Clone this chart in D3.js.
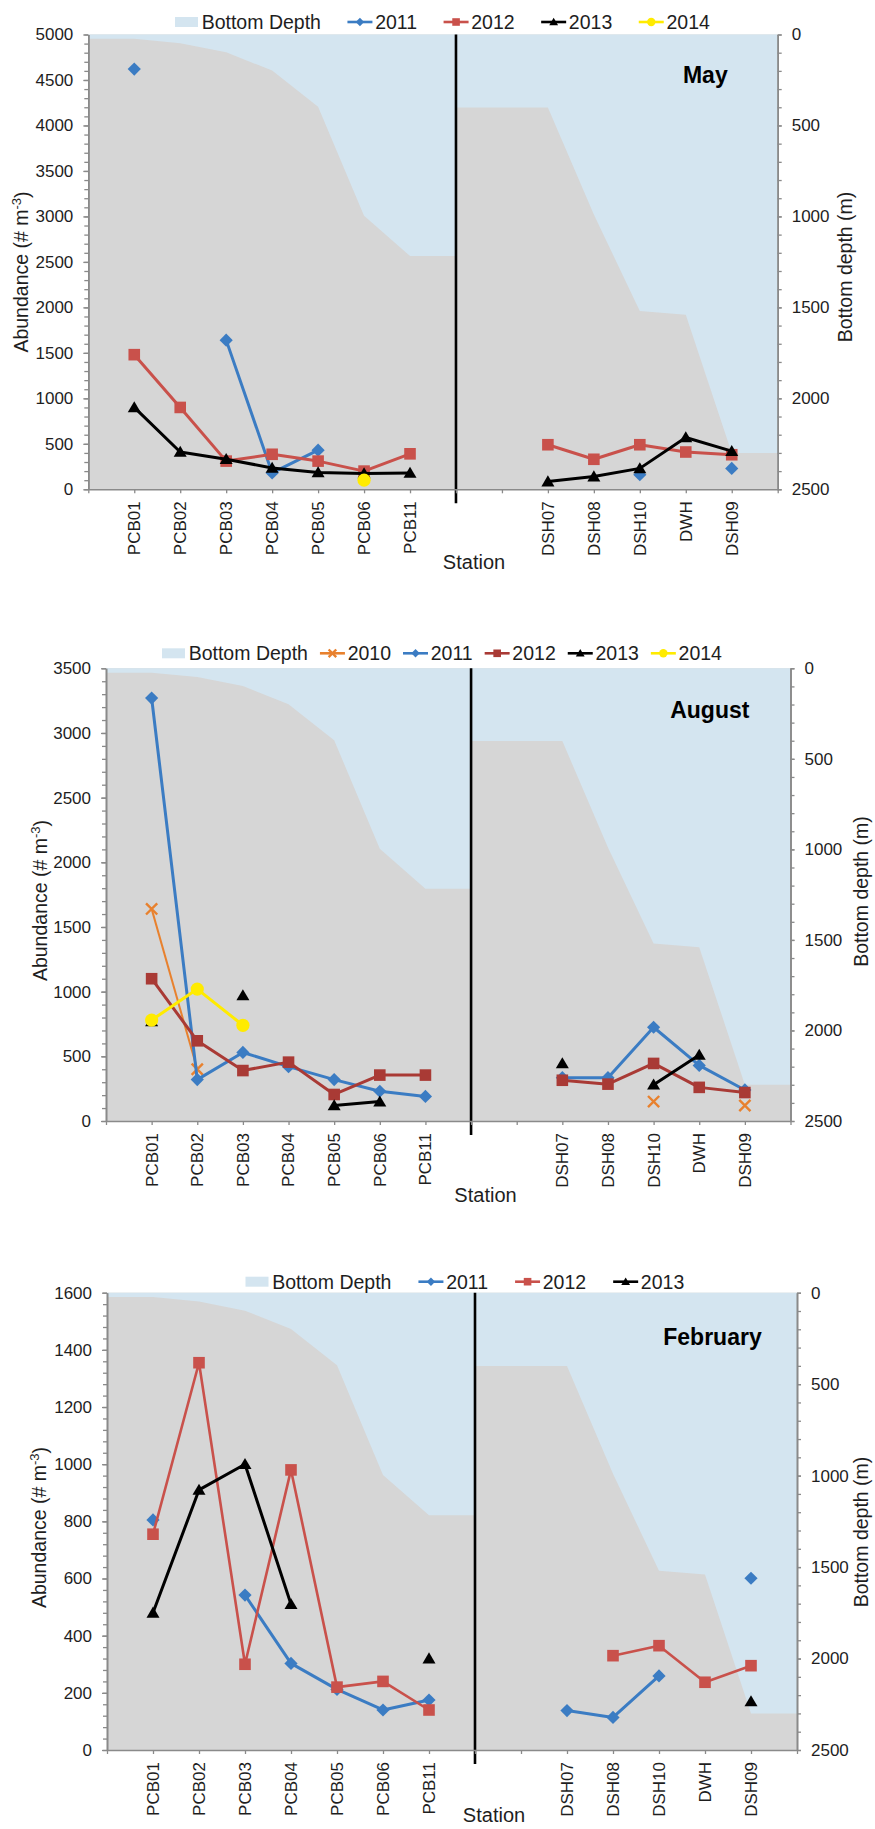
<!DOCTYPE html>
<html>
<head>
<meta charset="utf-8">
<script src="https://cdn.jsdelivr.net/npm/d3@7"></script>
<style>
  html, body { margin: 0; padding: 0; background: #fff; }
  svg { display: block; font-family: "Liberation Sans", Arial, Helvetica, sans-serif; }
</style>
</head>
<body>
<svg id="chart" width="875" height="1829"></svg>
<script>
// ---- stations (shelf transect, then slope transect) ----
const shelfStations = ["PCB01", "PCB02", "PCB03", "PCB04", "PCB05", "PCB06", "PCB11"];
const slopeStations = ["DSH07", "DSH08", "DSH10", "DWH", "DSH09"];
const stations = shelfStations.concat(slopeStations);

// ---- bottom depth profile (m) ----
// shelf part: axis start, PCB01..PCB11, divider
const shelfDepth = [24, 24, 48, 98, 198, 397, 996, 1217, 1217];
// slope part: divider, gap, DSH07, DSH08, DSH10, DWH, DSH09, axis end
const slopeDepth = [401, 401, 401, 990, 1520, 1540, 2300, 2300];
const depthTicks = [0, 500, 1000, 1500, 2000, 2500];

// ---- abundance (# m-3), one value per station in `stations` order ----
const may2011 = [4620, null, 1640, 180, 430, null, null, null, null, 160, null, 230];
const may2012 = [1480, 900, 310, 385, 310, 200, 390, 490, 330, 490, 410, 380];
const may2013 = [900, 410, 330, 235, 185, 175, 180, 85, 140, 230, 570, 420];
const may2014 = [null, null, null, null, null, 100, null, null, null, null, null, null];

const aug2010 = [1640, 400, null, null, null, null, null, null, null, 150, null, 120];
const aug2011 = [3270, 320, 530, 420, 320, 230, 190, 335, 335, 725, 430, 240];
const aug2012 = [1100, 620, 390, 455, 205, 355, 355, 315, 285, 445, 260, 220];
const aug2013 = [770, null, 970, null, 120, 150, null, 445, null, 280, 510, null];
const aug2014 = [780, 1020, 740, null, null, null, null, null, null, null, null, null];

const feb2011 = [805, null, 542, 303, 212, 140, 175, 138, 114, 259, null, 601];
const feb2012 = [755, 1355, 300, 980, 220, 240, 140, null, 330, 365, 237, 295];
const feb2013 = [480, 910, 1000, 510, null, null, 320, null, null, null, null, 170];

// ---- styling ----
const C = {
  plotBg: "#D6D6D6", water: "#D4E5F0", axis: "#8A8A8A", text: "#1E1E1E",
  blue: "#3B7CC3", red: "#C9514B", darkRed: "#A93A35", black: "#000000",
  yellow: "#FFEB00", orange: "#E8812E"
};

const panels = [
  {
    month: "May", yMax: 5000, major: 500, minor: 100,
    box: { left: 88.3, right: 777.7, top: 34.5, bottom: 489.3 },
    monthX: 727.7, monthY: 75,
    legendX: 175, legendY: 22, legendGap: 26.5,
    leftTitle: [21, 272], rightTitle: [845.5, 267], station: [474, 561.7],
    series: [
      { name: "2011", values: may2011, color: C.blue, marker: "diamond", width: 3 },
      { name: "2012", values: may2012, color: C.red, marker: "square", width: 3 },
      { name: "2013", values: may2013, color: C.black, marker: "triangle", width: 3 },
      { name: "2014", values: may2014, color: C.yellow, marker: "circle", width: 3 }
    ]
  },
  {
    month: "August", yMax: 3500, major: 500, minor: 100,
    box: { left: 106, right: 790.5, top: 668.3, bottom: 1121 },
    monthX: 749.4, monthY: 710,
    legendX: 162, legendY: 653.3, legendGap: 12,
    leftTitle: [40, 900.5], rightTitle: [861, 891.5], station: [485.5, 1195],
    series: [
      { name: "2010", values: aug2010, color: C.orange, marker: "x", width: 2 },
      { name: "2011", values: aug2011, color: C.blue, marker: "diamond", width: 3 },
      { name: "2012", values: aug2012, color: C.darkRed, marker: "square", width: 3 },
      { name: "2013", values: aug2013, color: C.black, marker: "triangle", width: 3 },
      { name: "2014", values: aug2014, color: C.yellow, marker: "circle", width: 3 }
    ]
  },
  {
    month: "February", yMax: 1600, major: 200, minor: 40,
    box: { left: 107, right: 797, top: 1292.7, bottom: 1750 },
    monthX: 761.7, monthY: 1336.7,
    legendX: 245.5, legendY: 1281.7, legendGap: 27,
    leftTitle: [39, 1527.5], rightTitle: [861, 1532], station: [494, 1815],
    series: [
      { name: "2011", values: feb2011, color: C.blue, marker: "diamond", width: 3 },
      { name: "2012", values: feb2012, color: C.red, marker: "square", width: 2.6 },
      { name: "2013", values: feb2013, color: C.black, marker: "triangle", width: 3 }
    ]
  }
];

// category slots: blank at each end, a divider slot and a spacer between the transects
const slots = ["_start"].concat(shelfStations, ["_divider", "_gap"], slopeStations, ["_end"]);
const shelfSlots = slots.slice(0, 9);
const slopeSlots = slots.slice(8);

const svg = d3.select("#chart");
svg.append("rect").attr("width", 875).attr("height", 1829).attr("fill", "#fff");

function markerPath(type, s) {
  // s = half size
  if (type === "diamond") return `M0,${-s}L${s},0L0,${s}L${-s},0Z`;
  if (type === "square") return `M${-s},${-s}H${s}V${s}H${-s}Z`;
  if (type === "triangle") return `M0,${-s * 1.0}L${s * 1.05},${s * 0.78}L${-s * 1.05},${s * 0.78}Z`;
  if (type === "circle") return d3.symbol(d3.symbolCircle, Math.PI * s * s)();
  if (type === "x") return `M${-s},${-s}L${s},${s}M${s},${-s}L${-s},${s}`;
  return "";
}

function drawMarker(g, type, color, s, cx, cy) {
  const p = g.append("path")
    .attr("d", markerPath(type, s))
    .attr("transform", `translate(${cx},${cy})`);
  if (type === "x") {
    p.attr("fill", "none").attr("stroke", color).attr("stroke-width", 2.4);
  } else {
    p.attr("fill", color).attr("stroke", "none");
  }
  return p;
}

const markerSize = { diamond: 6.6, square: 5.8, triangle: 6.2, circle: 6.6, x: 5.6 };
const legendMarkerSize = { diamond: 4.2, square: 3.8, triangle: 4.2, circle: 4.2, x: 3.8 };

panels.forEach(p => {
  const b = p.box;
  const g = svg.append("g");

  const x = d3.scalePoint().domain(slots).range([b.left, b.right]);
  const y = d3.scaleLinear().domain([0, p.yMax]).range([b.bottom, b.top]);
  const yDepth = d3.scaleLinear().domain([0, 2500]).range([b.top, b.bottom]);

  // plot area background (sea floor)
  g.append("rect")
    .attr("x", b.left).attr("y", b.top)
    .attr("width", b.right - b.left).attr("height", b.bottom - b.top)
    .attr("fill", C.plotBg);

  // water column down to the bottom depth
  const waterArea = d3.area()
    .x(d => x(d.slot))
    .y0(yDepth(0))
    .y1(d => yDepth(d.depth));
  [[shelfSlots, shelfDepth], [slopeSlots, slopeDepth]].forEach(([sl, dep]) => {
    g.append("path")
      .datum(sl.map((s, i) => ({ slot: s, depth: dep[i] })))
      .attr("d", waterArea)
      .attr("fill", C.water);
  });

  // divider between shelf and slope transects
  g.append("line")
    .attr("x1", x("_divider")).attr("x2", x("_divider"))
    .attr("y1", b.top).attr("y2", b.bottom + 14)
    .attr("stroke", "#000").attr("stroke-width", 2.6);

  // left axis (abundance)
  const styleAxis = sel => {
    sel.selectAll("path.domain").attr("stroke", C.axis).attr("stroke-width", 1.6);
    sel.selectAll(".tick line").attr("stroke", C.axis).attr("stroke-width", 1.3);
    sel.selectAll(".tick text").attr("fill", C.text).attr("font-size", 17)
      .attr("font-family", "Liberation Sans, Arial, sans-serif");
  };
  g.append("g").attr("transform", `translate(${b.left},0)`)
    .call(d3.axisLeft(y).tickValues(d3.range(0, p.yMax + 1, p.minor)).tickSize(4).tickSizeOuter(0).tickFormat(""))
    .call(styleAxis);
  g.append("g").attr("transform", `translate(${b.left},0)`)
    .call(d3.axisLeft(y).tickValues(d3.range(0, p.yMax + 1, p.major)).tickSize(5).tickSizeOuter(0).tickPadding(10).tickFormat(d3.format("d")))
    .call(styleAxis);

  // right axis (bottom depth, increasing downward)
  g.append("g").attr("transform", `translate(${b.right},0)`)
    .call(d3.axisRight(yDepth).tickValues(d3.range(0, 2501, 100)).tickSize(4).tickSizeOuter(0).tickFormat(""))
    .call(styleAxis);
  g.append("g").attr("transform", `translate(${b.right},0)`)
    .call(d3.axisRight(yDepth).tickValues(depthTicks).tickSize(4).tickSizeOuter(0).tickPadding(10).tickFormat(d3.format("d")))
    .call(styleAxis);

  // bottom axis (stations)
  g.append("g").attr("transform", `translate(0,${b.bottom})`)
    .call(d3.axisBottom(x).tickValues(slots).tickSize(4).tickSizeOuter(0).tickFormat(""))
    .call(styleAxis);
  g.selectAll("text.station-label")
    .data(stations)
    .join("text")
    .attr("class", "station-label")
    .attr("transform", s => `translate(${x(s)},${b.bottom + 12}) rotate(-90)`)
    .attr("text-anchor", "end")
    .attr("dy", "0.35em")
    .attr("font-size", 17)
    .attr("fill", C.text)
    .text(s => s);

  // series
  const line = d3.line()
    .defined(d => d.v != null)
    .x(d => x(d.slot))
    .y(d => y(d.v));
  p.series.forEach(s => {
    const byStation = new Map(stations.map((st, i) => [st, s.values[i]]));
    const pts = slots.map(sl => ({ slot: sl, v: byStation.has(sl) ? byStation.get(sl) : null }));
    const sg = g.append("g");
    sg.append("path")
      .datum(pts)
      .attr("d", line)
      .attr("fill", "none")
      .attr("stroke", s.color)
      .attr("stroke-width", s.width)
      .attr("stroke-linejoin", "round");
    pts.filter(d => d.v != null).forEach(d => {
      drawMarker(sg, s.marker, s.color, markerSize[s.marker], x(d.slot), y(d.v));
    });
  });

  // month label
  g.append("text")
    .attr("x", p.monthX).attr("y", p.monthY)
    .attr("dy", "0.35em")
    .attr("text-anchor", "end")
    .attr("font-size", 23).attr("font-weight", "bold")
    .attr("fill", "#000")
    .text(p.month);

  // axis titles
  const lt = g.append("text")
    .attr("transform", `translate(${p.leftTitle[0]},${p.leftTitle[1]}) rotate(-90)`)
    .attr("text-anchor", "middle").attr("dy", "0.35em")
    .attr("font-size", 19.5).attr("fill", C.text);
  lt.append("tspan").text("Abundance (# m");
  lt.append("tspan").attr("font-size", 13).attr("dy", "-0.55em").text("-3");
  lt.append("tspan").attr("dy", "0.42em").text(")");

  g.append("text")
    .attr("transform", `translate(${p.rightTitle[0]},${p.rightTitle[1]}) rotate(-90)`)
    .attr("text-anchor", "middle").attr("dy", "0.35em")
    .attr("font-size", 19.5).attr("fill", C.text)
    .text("Bottom depth (m)");

  g.append("text")
    .attr("x", p.station[0]).attr("y", p.station[1])
    .attr("dy", "0.35em").attr("text-anchor", "middle")
    .attr("font-size", 20).attr("fill", C.text)
    .text("Station");

  // legend
  const lg = g.append("g");
  let cx = p.legendX;
  const ly = p.legendY;
  lg.append("rect").attr("x", cx).attr("y", ly - 5).attr("width", 23).attr("height", 10).attr("fill", C.water);
  let t = lg.append("text").attr("x", cx + 26.7).attr("y", ly).attr("dy", "0.35em")
    .attr("font-size", 19.5).attr("fill", C.text).text("Bottom Depth");
  cx = cx + 26.7 + t.node().getComputedTextLength() + p.legendGap;
  p.series.forEach(s => {
    lg.append("line").attr("x1", cx).attr("x2", cx + 25).attr("y1", ly).attr("y2", ly)
      .attr("stroke", s.color).attr("stroke-width", 2.6);
    drawMarker(lg, s.marker, s.color, legendMarkerSize[s.marker], cx + 12.5, ly);
    t = lg.append("text").attr("x", cx + 27.7).attr("y", ly).attr("dy", "0.35em")
      .attr("font-size", 19.5).attr("fill", C.text).text(s.name);
    cx = cx + 27.7 + t.node().getComputedTextLength() + p.legendGap;
  });
});
</script>
</body>
</html>
